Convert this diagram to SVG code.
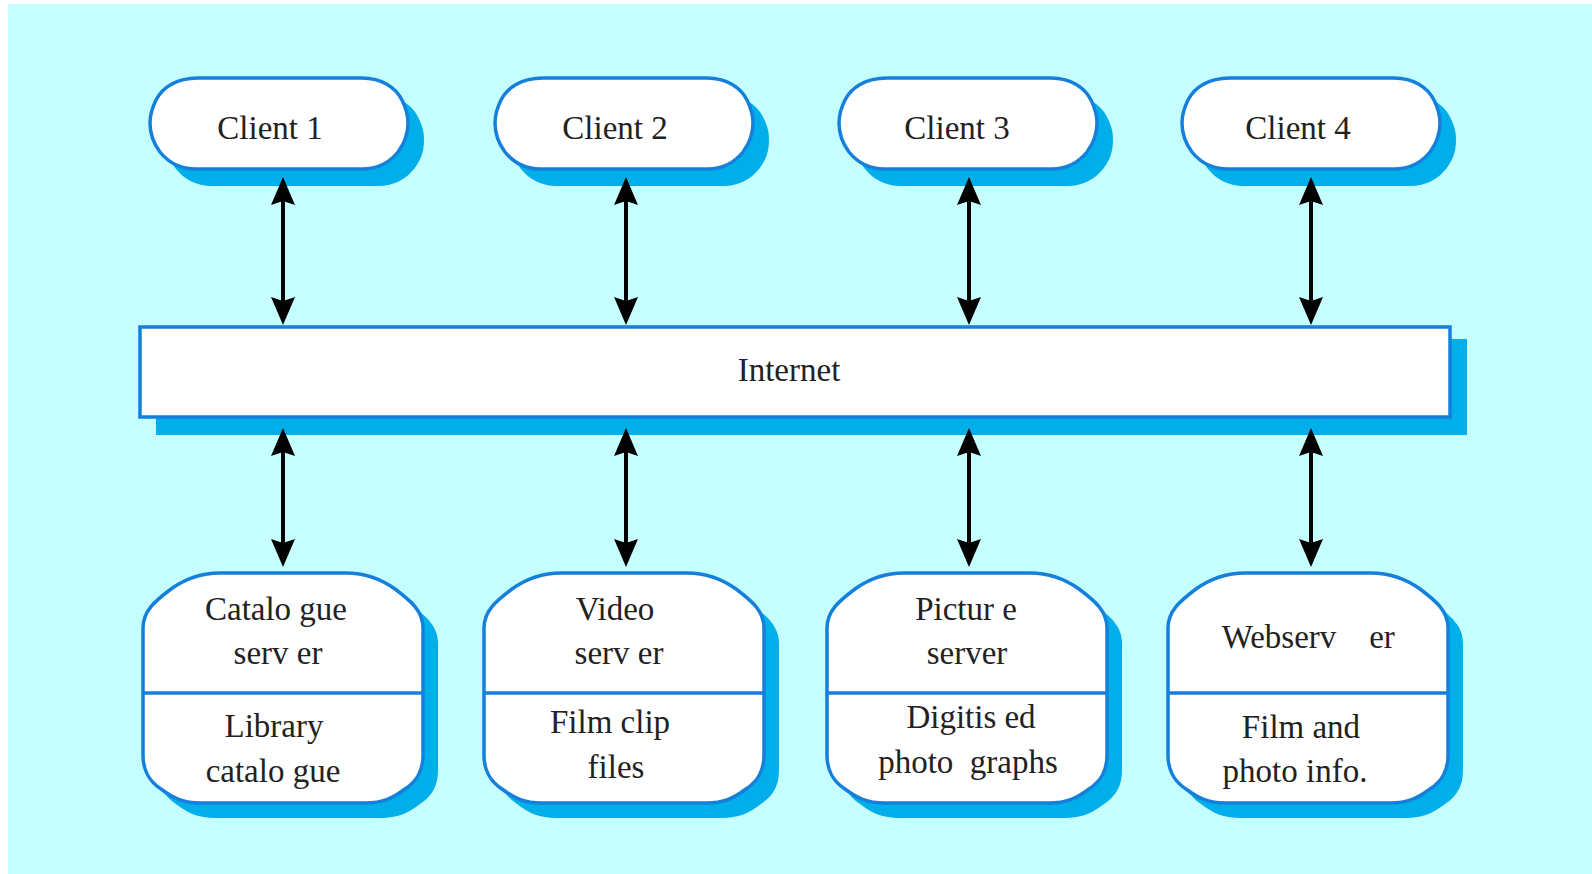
<svg xmlns="http://www.w3.org/2000/svg" width="1592" height="874" viewBox="0 0 1592 874">
<style>
.bg{fill:#C6FFFF}
.shadow{fill:#00AEEA}
.shape{fill:#FFFFFF;stroke:#1580DC;stroke-width:3.5}
.div{stroke:#1580DC;stroke-width:3.5}
.t{font-family:"Liberation Serif","Times New Roman",serif;font-size:33px;fill:#222;text-anchor:middle;white-space:pre}
.conn{stroke:#000;stroke-width:4;fill:none;marker-start:url(#ah);marker-end:url(#ah)}
</style>
<defs>
<marker id="ah" markerUnits="userSpaceOnUse" viewBox="-30 -15 32 30" refX="-24" refY="0" markerWidth="32" markerHeight="30" orient="auto-start-reverse">
<path d="M0,0 L-28,-12 L-24,0 L-28,12 Z" fill="#000"/>
</marker>
<path id="client" d="M48,0 H212 C232,0 246,10 252,22 C257,32 258,38 258,45 C258,58 254,66 248,74 C240,84 228,91 212,91 H46 C30,91 18,84 10,74 C4,66 0,58 0,45 C0,38 1,32 6,22 C12,10 26,0 48,0 Z"/>
<path id="server" d="M77,0 H203 C222,0 238,6 252,16 C268,28 280,38 280,55 V182 C280,198 274,208 262,216 C250,225 240,230 222,230 H58 C40,230 30,225 18,216 C6,208 0,198 0,182 V55 C0,38 12,28 28,16 C42,6 58,0 77,0 Z"/>
</defs>
<rect class="bg" x="8" y="4" width="1584" height="870"/>

<g id="client1">
<use href="#client" class="shadow" x="166" y="95"/>
<use href="#client" class="shape" x="150" y="78"/>
<text class="t" x="270" y="139">Client 1</text>
</g>
<g id="client2">
<use href="#client" class="shadow" x="511" y="95"/>
<use href="#client" class="shape" x="495" y="78"/>
<text class="t" x="615" y="139">Client 2</text>
</g>
<g id="client3">
<use href="#client" class="shadow" x="855" y="95"/>
<use href="#client" class="shape" x="839" y="78"/>
<text class="t" x="957" y="139">Client 3</text>
</g>
<g id="client4">
<use href="#client" class="shadow" x="1198" y="95"/>
<use href="#client" class="shape" x="1182" y="78"/>
<text class="t" x="1298" y="139">Client 4</text>
</g>

<g id="internet">
<rect class="shadow" x="156" y="339" width="1311" height="96"/>
<rect class="shape" x="140" y="327" width="1310" height="90"/>
<text class="t" x="789" y="381">Internet</text>
</g>

<g id="catalogue-server">
<use href="#server" class="shadow" x="158" y="588"/>
<use href="#server" class="shape" x="143" y="573"/>
<line class="div" x1="143" y1="693" x2="423" y2="693"/>
<text class="t" x="276" y="620">Catalo gue</text>
<text class="t" x="278" y="664">serv er</text>
<text class="t" x="274" y="737">Library</text>
<text class="t" x="273" y="782">catalo gue</text>
</g>
<g id="video-server">
<use href="#server" class="shadow" x="499" y="588"/>
<use href="#server" class="shape" x="484" y="573"/>
<line class="div" x1="484" y1="693" x2="764" y2="693"/>
<text class="t" x="615" y="620">Video</text>
<text class="t" x="619" y="664">serv er</text>
<text class="t" x="610" y="733">Film clip</text>
<text class="t" x="616" y="778">files</text>
</g>
<g id="picture-server">
<use href="#server" class="shadow" x="842" y="588"/>
<use href="#server" class="shape" x="827" y="573"/>
<line class="div" x1="827" y1="693" x2="1107" y2="693"/>
<text class="t" x="966" y="620">Pictur e</text>
<text class="t" x="967" y="664">server</text>
<text class="t" x="971" y="728">Digitis ed</text>
<text class="t" x="968" y="773">photo  graphs</text>
</g>
<g id="web-server">
<use href="#server" class="shadow" x="1183" y="588"/>
<use href="#server" class="shape" x="1168" y="573"/>
<line class="div" x1="1168" y1="693" x2="1448" y2="693"/>
<text class="t" x="1308" y="648"><tspan x="1279">Webserv</tspan><tspan x="1382">er</tspan></text>
<text class="t" x="1301" y="738">Film and</text>
<text class="t" x="1295" y="782">photo info.</text>
</g>

<g id="connectors">
<line class="conn" x1="283" y1="201" x2="283" y2="301"/>
<line class="conn" x1="626" y1="201" x2="626" y2="301"/>
<line class="conn" x1="969" y1="201" x2="969" y2="301"/>
<line class="conn" x1="1311" y1="201" x2="1311" y2="301"/>
<line class="conn" x1="283" y1="452" x2="283" y2="543"/>
<line class="conn" x1="626" y1="452" x2="626" y2="543"/>
<line class="conn" x1="969" y1="452" x2="969" y2="543"/>
<line class="conn" x1="1311" y1="452" x2="1311" y2="543"/>
</g>
</svg>
